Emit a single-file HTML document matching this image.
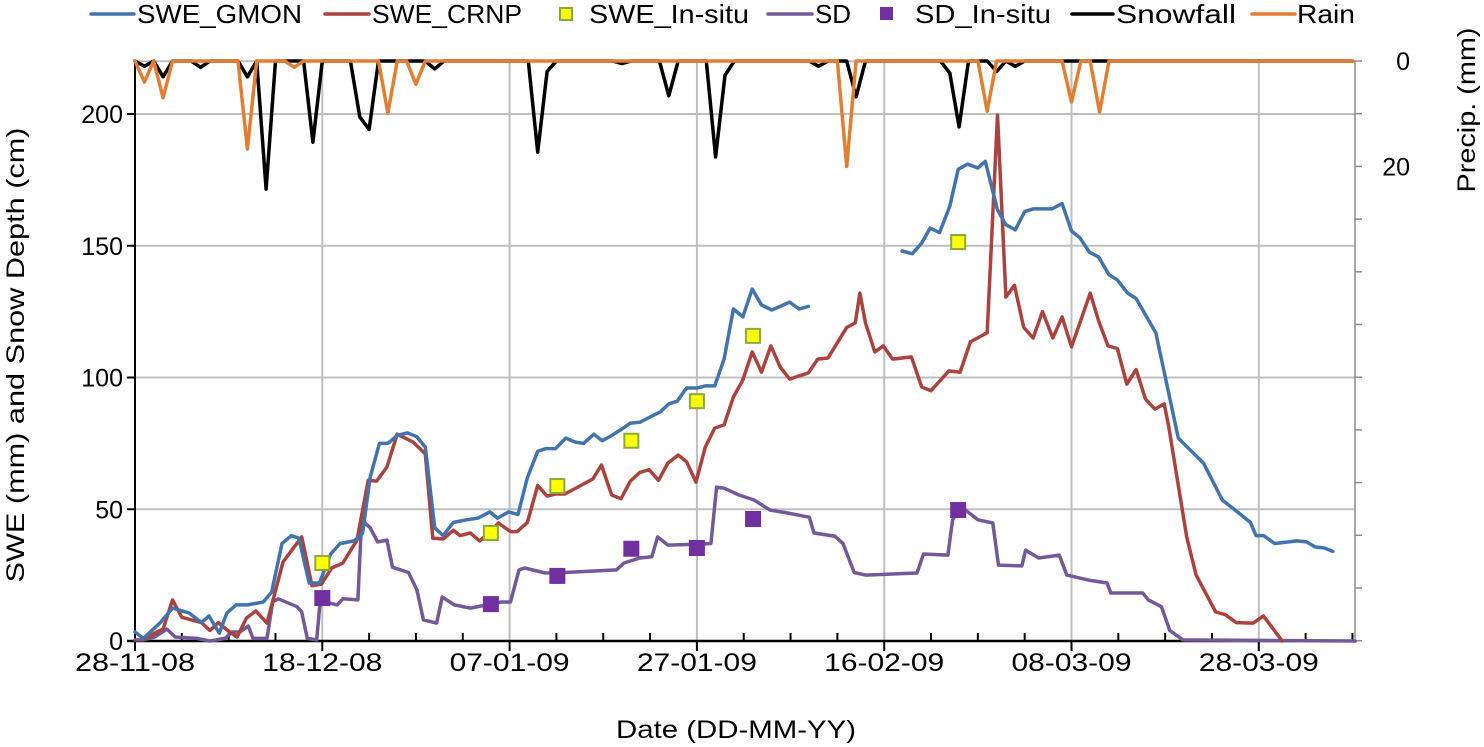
<!DOCTYPE html>
<html><head><meta charset="utf-8">
<style>
html,body{margin:0;padding:0;background:#fff;}
svg{display:block;font-family:"Liberation Sans",sans-serif;}
</style></head>
<body>
<svg id="chart" width="1484" height="747" viewBox="0 0 1484 747" xmlns="http://www.w3.org/2000/svg">
<g id="grid"></g>
<g id="axes"></g>
<g id="series"></g>
<g id="legend"></g>
<text x="736" y="738" font-size="25" text-anchor="middle" textLength="240" lengthAdjust="spacingAndGlyphs">Date (DD-MM-YY)</text>
<text transform="translate(24,355) rotate(-90)" font-size="25" text-anchor="middle" textLength="455" lengthAdjust="spacingAndGlyphs">SWE (mm) and Snow Depth (cm)</text>
<text transform="translate(1475,110) rotate(-90)" font-size="25" text-anchor="middle" textLength="165" lengthAdjust="spacingAndGlyphs">Precip. (mm)</text>
</svg>
<script>
// ---- data (day offset from 28-11-08, value) ----
const xTickLabels = ["28-11-08","18-12-08","07-01-09","27-01-09","16-02-09","08-03-09","28-03-09"];
const yTicks = [0,50,100,150,200];
const y2Labels = [0,20];
const gmonDays1 = [0,0.9,2.7,4,5.8,7.1,7.9,9,9.8,10.8,12,13.7,14.6,15.7,16.7,17.5,18.6,19.7,20.9,21.9,23.4,24.3,25.1,26.1,27,28,29.1,30.1,31,32,32.9,34,35.4,36.6,37.9,38.7,39.9,40.9,41.9,43,43.9,44.9,46,47,47.9,49,49.9,50.9,52,52.9,53.9,55,56.1,57,57.9,58.9,60,60.9,61.9,62.9,63.9,64.9,65.9,66.9,68,68.9,69.9,70.9,71.9];
const gmonVals1 = [3.4,1,7,12.5,10.6,7,9.5,3,10.6,13.7,13.7,14.8,18.6,37,40,39,22,22,33,37,38,41,62,75,75,78,79,77.5,73.6,43,40,45,46,46.6,49,46.6,49,48,62,72,73,73,77,75.5,75,78.5,76,78,80.5,82.7,83,85,87,90,91,96,96,96.8,96.8,107,126,123,133.6,127.5,125.6,127,128.6,126,127];
const gmonDays2 = [81.9,83,84,84.9,85.9,87,87.9,88.9,90,90.8,92.1,93,94,95,95.9,97.9,99,100,100.9,101.9,102.9,104,104.9,106,106.9,109,111.4,114.1,116.1,117.9,119.1,119.7,120.5,121.7,124.1,125.1,126,127,127.9];
const gmonVals2 = [148,147,151,156.7,155,165,179,181,179.5,182,163.6,158,156,163,164,164,166,155.6,153,147.6,145.7,139,137,132,130,117,77,67.5,53.5,48.5,45,40,40,37,38,37.6,35.7,35.3,34];
const crnpDays = [0.9,2.1,3,4,5,7.1,8,8.9,9.9,10.9,11.9,12.9,14.1,15.8,17.8,18.9,19.9,21,22.2,23.7,24.9,25.8,26.9,28,29.7,31,31.8,32.9,34,34.7,35.8,36.8,37.8,38.8,40.1,40.8,41.9,43,44,44.9,45.9,47.9,48.9,49.8,50.9,51.9,52.9,53.9,54.9,55.9,56.9,58,58.9,59.9,60.9,61.9,62.9,63.9,64.9,65.9,66.9,67.9,68.9,69.9,70.9,71.9,72.9,74,76,76.9,77.4,78,79,79.9,80.9,82.9,84,85,86.9,88.1,89.2,91,92.1,93,93.9,94.9,95.9,96.9,98,99,100,102,102.9,103.9,104.9,105.9,106.9,107.9,108.9,109.9,110.4,112.3,113.3,115.4,116.4,117.6,119.4,120.5,122.5];
const crnpVals = [0.4,3,4.5,15.6,9,7,4,7,4,1.5,8.7,11.4,6.8,30,39.5,21,21.6,27.7,29.6,38.3,61,60.7,66,78.5,75.5,71,39,38.7,42,40,41,38,41,44.8,41.5,41.5,45,59,55,55.8,55.8,59.6,61.5,66.8,55.4,54,60.7,64,65,61,67.5,70.6,68,60.3,73.6,80.8,82,92.6,99,109.7,102,112,104,99.4,100.6,101.7,107,107.4,119,120.7,132,120.7,109.7,112,107,107.8,96.4,95,102.5,102,113.5,117,199.6,130.5,135,119,115,125,115,123,111.6,132,121.4,112,111,97.5,103,91.8,88,90,81,39.5,25,11,10,7,6.8,9.5,0];
const sdDays = [0,0.85,2.1,3.4,4.3,6.6,8,9.6,10.4,11.2,12.1,12.6,14.1,14.7,15.3,17.3,17.8,18.4,19.4,19.75,20.8,21.6,22.2,23.8,24.2,25.1,25.9,26.9,27.5,29.2,30.1,30.8,32.2,32.8,34.1,35.8,39.1,40.1,41,41.6,43.8,45.9,51.4,52.2,53.9,55.2,55.8,56.9,60.7,61.5,62.1,62.9,64.5,66.1,67.8,69.6,72,72.5,74.7,75.6,76.8,78,83.5,84.2,86.8,87.3,88.2,90,91.6,92.2,94.7,95.1,96.5,98.7,99.5,102,103.8,104.2,107.6,108.2,109.6,110.5,111.9,130.3];
const sdVals = [0.4,0.4,1.5,4.5,1.5,1,0,1,3.4,3.4,5.7,1,1,14.8,16,13,11,1,0.4,14.4,14.4,13.7,16,15.6,46,43,37.6,38.3,28,26,19.4,8,6.8,16.7,13.7,12.5,14.8,14.8,27,27.7,25.8,26,27,29.6,31.5,32,39.5,36.4,36.8,37,58.4,58,55.4,53.5,49.7,48.6,47,41,39.8,37,26,25,25.8,33,32.6,46,51,46,44.8,28.8,28.5,34.5,31.5,32.6,25,23,22,18.2,18.2,15.6,13,4,0.4,0];
const inSituDays = [20,38,45.1,53,60,66,87.9];
const sweInSitu = [29.6,41,58.8,76,91,115.8,151.4];
const sdInSitu = [16.3,14,24.7,35,35.3,46.3,49.7];
// daily precipitation (mm), day 0..130
const snowDaily = [
0,1,0,3,0,0,0,1.2,0,0,
0,0,3,0,24.3,0,0,0,0,15.4,
0,0,0,0,10.6,13,0,0,0,0,
0,0,1.5,0,0,0,0,0,0,0,
0,0,0,17.3,2,0,0,0,0,0,
0,0,0.5,0,0,0,0,6.6,0,0,
0,0,18.2,2.7,0,0,0,0,0,0,
0,0,0,1,0,0,0,6.8,0,0,
0,0,0,0,0,0,0,2.3,12.5,0,
0,0,2,0,1,0,0,0,0,0,
0,0,0,0,0,0,0,0,0,0,
0,0,0,0,0,0,0,0,0,0,
0,0,0,0,0,0,0,0,0,0,0];
const rainDaily = [
0,4,0,7,0,0,0,0,0,0,
0,0,16.7,0,0,0,0,1.2,0,0,
0,0,0,0,0,0,0,9.9,0,0,
4.4,0,0,0,0,0,0,0,0,0,
0,0,0,0,0,0,0,0,0,0,
0,0,0,0,0,0,0,0,0,0,
0,0,0,0,0,0,0,0,0,0,
0,0,0,0,0,0,20,0,0,0,
0,0,0,0,0,0,0,0,0,0,
0,9.5,0,0,0,0,0,0,0,0,
7.8,0,0,9.7,0,0,0,0,0,0,
0,0,0,0,0,0,0,0,0,0,
0,0,0,0,0,0,0,0,0,0,0];

// ---- scales ----
const X0=135, PXD=9.365, Y0=641, PXV=2.635, P0=61, PXP=5.27;
const xs=d=>X0+d*PXD, ys=v=>Y0-v*PXV, yp=p=>P0+p*PXP;
const NS="http://www.w3.org/2000/svg";
function mk(tag,attrs,parent){const e=document.createElementNS(NS,tag);for(const k in attrs)e.setAttribute(k,attrs[k]);parent.appendChild(e);return e;}
const grid=document.getElementById('grid'), axes=document.getElementById('axes'), ser=document.getElementById('series'), leg=document.getElementById('legend');

yTicks.forEach(v=>{const l=mk('line',{x1:X0,x2:1355,y1:ys(v),y2:ys(v),stroke:'#bfbfbf','stroke-width':2},grid);

});
{const l=mk('line',{x1:X0,x2:1355,y1:ys(220),y2:ys(220),stroke:'#bfbfbf','stroke-width':2},grid);

}
xTickLabels.forEach((t,i)=>{const x=xs(i*20);
if(i>0){const l=mk('line',{x1:x,x2:x,y1:ys(220),y2:Y0,stroke:'#bfbfbf','stroke-width':2},grid);

}
const tx=mk('text',{x:x,y:671,'font-size':25,'text-anchor':'middle',textLength:120,lengthAdjust:'spacingAndGlyphs'},axes);tx.textContent=t;

});
mk('line',{x1:X0,x2:X0,y1:ys(220),y2:Y0+1,stroke:'#000','stroke-width':2},axes);
mk('line',{x1:X0-8,x2:1356,y1:Y0,y2:Y0,stroke:'#000','stroke-width':2.5},axes);
mk('line',{x1:1355,x2:1355,y1:P0,y2:Y0,stroke:'#8c8c8c','stroke-width':1.5},axes);
for(let d=0;d<=130;d+=5){mk('line',{x1:xs(d),x2:xs(d),y1:Y0-(d%20===0?0:8),y2:Y0+(d%20===0?10:0),stroke:'#000','stroke-width':2},axes);}
yTicks.forEach(v=>{mk('line',{x1:X0-8,x2:X0,y1:ys(v),y2:ys(v),stroke:'#000','stroke-width':2},axes);
const t=mk('text',{x:123,y:ys(v)+9,'font-size':25,'text-anchor':'end'},axes);t.textContent=v;

});
for(let p=0;p<=110;p+=10){mk('line',{x1:1355,x2:1362,y1:yp(p),y2:yp(p),stroke:'#8c8c8c','stroke-width':1.5},axes);}
y2Labels.forEach(p=>{const t=mk('text',{x:1410,y:yp(p)+9,'font-size':25,'text-anchor':'end'},axes);t.textContent=p;

});

function line(days,vals,f,color,w,name){const pts=days.map((d,i)=>xs(d).toFixed(1)+','+f(vals[i]).toFixed(1)).join(' ');
const e=mk('polyline',{points:pts,fill:'none',stroke:color,'stroke-width':w,'stroke-linejoin':'round','stroke-linecap':'round'},ser);

}
line(snowDaily.map((v,i)=>i),snowDaily,yp,'#000',3.5,'snowfall-line');
line(rainDaily.map((v,i)=>i),rainDaily,yp,'#e07f33',3.5,'rain-line');
line(sdDays,sdVals,ys,'#725a98',3.5,'sd-line');
line(crnpDays,crnpVals,ys,'#aa423e',3.5,'swe-crnp-line');
line(gmonDays1,gmonVals1,ys,'#4373ad',3.5,'swe-gmon-line');
line(gmonDays2,gmonVals2,ys,'#4373ad',3.5,'swe-gmon-line-2');
inSituDays.forEach((d,i)=>{
const a=mk('rect',{x:xs(d)-7,y:ys(sweInSitu[i])-7,width:14,height:14,fill:'#ffff00',stroke:'#8aa83f','stroke-width':2},ser);


const b=mk('rect',{x:xs(d)-8,y:ys(sdInSitu[i])-8,width:16,height:16,fill:'#7030a0'},ser);

});

const L=[["line","#4373ad",91,134,"SWE_GMON",137,165],["line","#aa423e",325,369,"SWE_CRNP",372,150],["ys",0,566,0,"SWE_In-situ",589,160],
["line","#725a98",768,812,"SD",815,36],["sq",0,886,0,"SD_In-situ",915,136],["line","#000",1072,1113,"Snowfall",1116,120],["line","#e07f33",1252,1295,"Rain",1297,58]];
L.forEach(it=>{
if(it[0]==="line")mk('line',{x1:it[2],x2:it[3],y1:14,y2:14,stroke:it[1],'stroke-width':3.5,'stroke-linecap':'round'},leg);
else if(it[0]==="ys")mk('rect',{x:it[2]-6,y:8,width:12,height:12,fill:'#ffff00',stroke:'#8aa83f','stroke-width':2},leg);
else mk('rect',{x:it[2]-6,y:7,width:13,height:13,fill:'#7030a0'},leg);
const t=mk('text',{x:it[5],y:23,'font-size':26,textLength:it[6],lengthAdjust:'spacingAndGlyphs'},leg);t.textContent=it[4];

});
</script>
</body></html>
